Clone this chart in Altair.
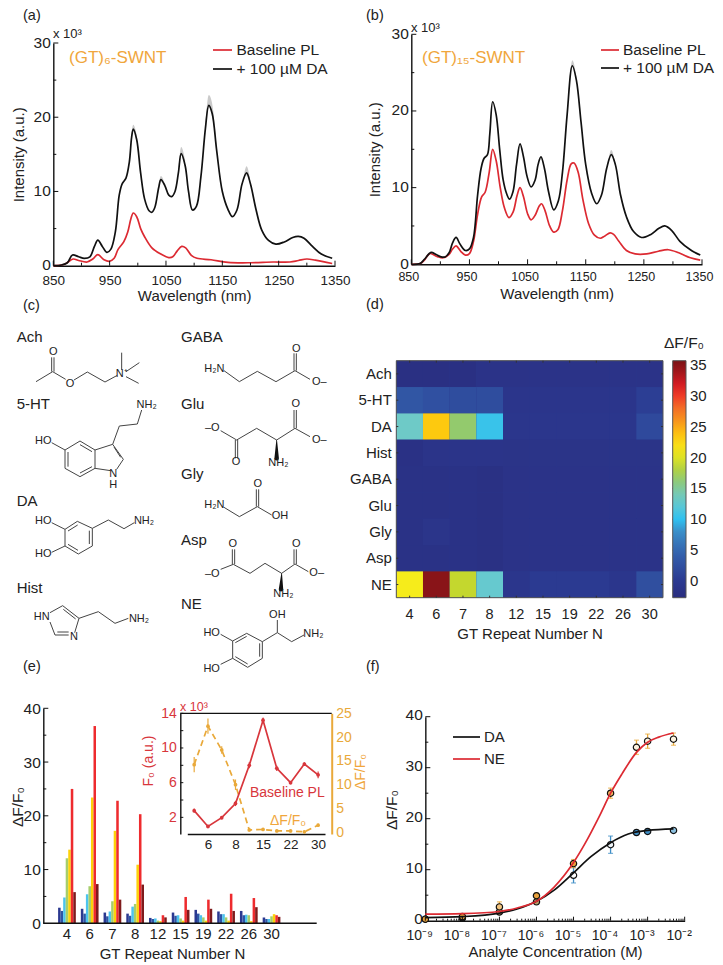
import altair as alt
import pandas as pd

FONT = "Liberation Sans"
W, H = 707, 955
INK = "#222222"
RED = "#dc2a32"
BLACK = "#111111"
ORANGE = "#f0a63c"
ORANGE2 = "#e9a93a"
INSET_RED = "#d8363c"

# ---- panel (a) spectra: (wavelength nm, intensity x10^3)
a_black = [(850,0),(865,.1),(875,.4),(884,1.45),(895,1.2),(905,1.0),(915,1.2),(923,2.6),(929,3.45),(937,2.6),(945,1.8),(952,2.2),(960,4.5),(967,9.5),(972,11),(979,11.8),(985,14),(989,17.3),(992,18.4),(998,17),(1005,12.5),(1012,9),(1020,7.4),(1025,7.2),(1030,7.8),(1037,10.5),(1041,11.6),(1048,10.8),(1055,9.5),(1060,9.3),(1066,10),(1072,12.5),(1077,15.1),(1084,13.5),(1090,10),(1097,7.5),(1104,8),(1112,12),(1120,18.5),(1126,21.6),(1132,20.5),(1140,15.5),(1150,10),(1160,7.6),(1168,6.6),(1176,7.5),(1185,11),(1193,12.5),(1200,11),(1210,7.5),(1220,4.8),(1232,3.4),(1245,2.9),(1260,3.2),(1275,3.8),(1285,3.95),(1295,3.7),(1310,2.6),(1325,1.6),(1345,1.0)]
a_red = [(850,0),(870,.2),(885,.9),(895,.7),(910,.5),(920,.9),(929,1.5),(940,.8),(950,.6),(958,1.0),(965,2.2),(975,3.2),(982,4.5),(988,6.4),(992,7.1),(998,6.6),(1005,5),(1012,3.9),(1025,2.4),(1040,1.6),(1055,1.1),(1062,1.2),(1070,2),(1078,2.6),(1085,2.4),(1095,1.4),(1105,1.0),(1130,.8),(1160,.45),(1200,.4),(1240,.5),(1270,.5),(1285,.7),(1300,.9),(1315,.75),(1345,.3)]
# grey spread near peaks: (segment, wavelength, upper, lower)
a_band = [(1,1120,19,18.2),(1,1126,23,21.3),(1,1132,21.8,20.2),(1,1140,15.7,15.3),
          (2,1072,12.8,12.3),(2,1077,16,14.8),(2,1084,14.2,13.2),
          (3,1188,12,11.6),(3,1193,13.4,12.2),(3,1199,11.8,11.1),
          (4,1036,10.3,9.6),(4,1041,12.1,11.3),(4,1048,11,10.6),
          (5,985,14.3,13.8),(5,992,19,18.1),(5,998,17.6,16.6)]

# ---- panel (b)
b_black = [(850,0),(865,.1),(872,.6),(884,1.55),(892,1.3),(900,1.0),(908,.95),(915,1.5),(921,2.8),(927,3.5),(934,2.6),(943,1.8),(950,2.0),(957,3.5),(964,9),(970,12.5),(975,13.8),(981,14.3),(985,17),(990,21.2),(996,19.5),(1002,15),(1008,11),(1014,9.2),(1019,8.5),(1025,9.5),(1031,13),(1037,15.7),(1043,14),(1049,11.5),(1056,10.1),(1063,11),(1068,13),(1073,14),(1079,12.5),(1086,9.5),(1095,7.1),(1103,8.3),(1110,12),(1118,19.5),(1127,25.9),(1134,24),(1142,18.5),(1150,13),(1160,9.3),(1169,7.9),(1177,9),(1186,12.5),(1194,14.3),(1201,13),(1210,9),(1220,6.2),(1232,4.3),(1246,3.5),(1262,3.9),(1276,4.7),(1286,5),(1298,4.4),(1312,3),(1330,1.9),(1347,1.2)]
b_red = [(850,0),(865,.1),(872,.5),(882,1.4),(895,1.0),(905,.85),(915,1.3),(921,2),(927,2.4),(935,1.7),(943,1.2),(950,1.4),(957,3),(964,6.5),(971,8.8),(977,9.4),(984,12),(990,15),(996,13.5),(1003,10),(1010,7.4),(1018,6.1),(1025,6.8),(1032,9),(1037,10),(1043,8.8),(1050,6.6),(1056,5.8),(1063,6.4),(1070,7.6),(1074,7.9),(1080,7),(1088,5),(1095,4.2),(1102,4.5),(1110,7),(1118,11),(1125,13.1),(1130,13.2),(1137,12),(1145,8.5),(1155,5.3),(1165,3.8),(1175,3.4),(1183,3.7),(1192,4.1),(1198,3.9),(1207,3),(1220,1.8),(1235,1.35),(1255,1.35),(1275,1.7),(1292,1.9),(1310,1.5),(1330,.85),(1347,.55)]
b_band = [(1,1120,21.5,21),(1,1127,26.6,25.7),(1,1134,24.4,23.8),
          (2,1188,13.2,12.9),(2,1194,14.9,14.1),(2,1200,13.4,13.1)]

# ---- panel (d) heat map
analytes = ["Ach","5-HT","DA","Hist","GABA","Glu","Gly","Asp","NE"]
repeats = ["4","6","7","8","12","15","19","22","26","30"]
heat = {
 "Ach":  [-2,-2,-2,-1.3,-1.3,-1.3,-1.3,-1.3,-1.3,-1.3],
 "5-HT": [3.2,2.6,2.2,2.2,-.8,-.8,-.8,-.8,-.8,.6],
 "DA":   [13.2,23.5,16.5,10.5,-.6,-.6,-.6,-.6,-.6,1.8],
 "Hist": [-1.7,-1.1,-1.1,-1.1,-1.2,-1.2,-1.2,-1.2,-1.2,-1.2],
 "GABA": [-1.6,-1.6,-1.6,-1.9,-1.3,-1.3,-1.3,-1.3,-1.3,-1.3],
 "Glu":  [-1.6,-1.6,-1.6,-1.9,-1.3,-1.3,-1.3,-1.3,-1.3,-1.3],
 "Gly":  [-1.6,-.9,-1.6,-1.9,-1.3,-1.3,-1.3,-1.3,-1.3,-1.3],
 "Asp":  [-1.6,-1.6,-1.6,-1.9,-1.3,-1.3,-1.3,-1.3,-1.3,-1.3],
 "NE":   [21,35,19,12.7,-.7,.1,.1,.1,-.7,2.4],
}
jet_stops  = [-2.7,0,5,8,10,13,15,17,19,21,23.5,26,29,31,33,35.7]
jet_colors = ["#2a2d7f","#2b3990","#3566b0","#3a8fc9","#2fc1f0","#6ccacb","#7cc8a0","#9bcb5c","#c4d72e","#f6ec1b","#fdc90f","#f7941d","#f1592a","#ed1c24","#b5191f","#7a1215"]
cbar_ticks = [0,5,10,15,20,25,30,35]

# ---- panel (e) bars
bar_series = ["s1","s2","s3","s4","s5","s6","s7"]
bar_colors = ["#2b3990","#2e55a5","#4cc4ee","#a6ce6b","#fdd20a","#ee2b2e","#7f1b1c"]
bars = {
 "4":  [2.9,2.3,4.8,12.1,13.7,25,5.8],
 "6":  [2.7,1.8,5.4,6.9,23.4,36.7,7.3],
 "7":  [2.0,1.3,2.2,4.1,17.2,22.8,4.4],
 "8":  [1.8,1.4,3.1,3.6,10.9,20.3,7.2],
 "12": [1.0,.8,.9,.5,.4,1.5,1.1],
 "15": [2.0,1.4,1.5,.9,.5,4.9,2.5],
 "19": [2.5,1.8,1.5,1.1,.5,4.4,2.7],
 "22": [2.2,1.7,1.7,1.1,.5,5.5,2.3],
 "26": [2.3,1.5,1.6,1.5,.4,4.7,3.0],
 "30": [1.1,.8,.8,1.3,1.7,1.5,1.2],
}
# inset
inset_f0 = [2.77,.95,1.96,3.6,8.0,13.2,7.65,6.0,8.15,6.9]
inset_f0_err = [.25,.2,.2,.3,.35,.3,.3,.2,.2,.4]
inset_df = [14.2,22.3,17.3,10.0,.5,.6,.3,.3,.1,1.5]
inset_df_err = [1.6,1.6,.8,1.1,.3,.3,.3,.3,.3,.3]

# ---- panel (f)
conc_pts = [1e-9,1e-8,1e-7,1e-6,1e-5,1e-4,5e-4,1e-3,5e-3]
da_pts = [.3,.5,1.7,3.7,8.9,14.9,17.3,17.5,17.7]
da_err = [.2,.2,.3,.4,1.5,1.7,.4,.4,.3]
da_fill = ["#222222","#222222","#caa27a","#b9a06a","#ffffff","#eef4f8","#3f8ec6","#3f8ec6","#8cc1e0"]
ne_pts = [.3,.8,2.7,4.9,11.2,25,34,35.2,35.6]
ne_err = [.2,.3,1.0,.5,.8,1.0,1.4,1.4,1.2]
ne_fill = ["#e8a23c","#e8a23c","#f3c47e","#e8a23c","#e8a23c","#f3b45c","#fdf3e0","#fdf3e0","#fdf3e0"]
da_curve = [(1e-9,.6),(1e-8,.8),(1e-7,1.5),(3e-7,2.3),(1e-6,3.8),(3e-6,6),(1e-5,9.4),(3e-5,12.6),(1e-4,15.3),(3e-4,17),(1e-3,17.7),(5e-3,18)]
ne_curve = [(1e-9,1.3),(1e-8,1.4),(1e-7,1.8),(3e-7,2.5),(1e-6,3.8),(3e-6,6.6),(1e-5,11.4),(2e-5,15),(5e-5,20.5),(1e-4,25),(2e-4,28.7),(5e-4,33),(1e-3,35),(2e-3,36),(5e-3,36.8)]

# ---- panel (c) molecule drawings: bonds in the panel's own drawing units
c_bonds = [
 # Ach
 (108,245,158,215),(155,215,155,172),(162,215,162,172),(158,215,197,238),(222,240,262,216),(262,216,315,246),(315,246,352,226),(365,210,365,158),(378,215,418,188),(378,230,416,250),
 # GABA
 (672,212,718,245),(718,245,772,214),(772,214,828,245),(828,245,885,212),(882,212,882,160),(889,212,889,160),(885,212,930,238),
 # 5-HT
 (425,330,412,372),(412,372,358,378),(358,378,338,433),(155,428,195,450),(195,450,240,423),(240,423,285,450),(285,450,285,505),(285,505,240,530),(240,530,195,505),(195,505,195,450),
 (204,456,204,500),(240,434,276,455),(240,519,276,500),(285,450,338,433),(338,433,370,478),(370,478,350,508),(332,512,285,505),(342,441,362,472),
 # DA
 (155,668,195,688),(155,757,195,738),(195,688,232,664),(232,664,277,685),(277,685,277,738),(277,738,235,762),(235,762,195,738),(195,738,195,688),
 (204,693,233,675),(268,692,268,732),(234,751,204,733),(277,685,325,660),(325,660,372,686),(372,686,403,668),
 # Hist
 (150,938,188,917),(188,917,237,955),(237,955,224,998),(206,1005,165,1005),(165,1005,150,966),(190,928,227,957),(172,996,206,996),(237,955,295,935),(295,935,345,970),(345,970,385,955),
 # Glu
 (662,392,710,420),(706,420,706,475),(713,420,713,475),(710,420,770,385),(770,385,830,420),(830,420,885,385),(882,385,882,330),(889,385,889,330),(885,385,930,410),
 # Gly
 (672,622,718,650),(718,650,772,620),(769,620,769,568),(776,620,776,568),(772,620,815,645),
 # Asp
 (662,808,700,793),(697,793,697,748),(704,793,704,748),(700,793,750,820),(750,820,795,790),(795,790,845,820),(845,820,885,792),(882,792,882,748),(889,792,889,748),(885,792,925,815),
 # NE
 (662,1003,698,1023),(662,1093,698,1075),(698,1023,740,1000),(740,1000,787,1025),(787,1025,787,1075),(787,1075,743,1102),(743,1102,698,1075),(698,1075,698,1023),
 (706,1028,740,1009),(779,1030,779,1070),(743,1092,706,1070),(787,1025,832,998),(832,998,875,1025),(875,1025,912,1005),(832,998,832,960),
]
# stereo wedges: (id, x, y, thickness)
c_wedges = [(1,830,420,1),(1,830,475,7),(2,845,820,1),(2,843,868,7)]
c_atoms = [(160,157,"O"),(210,253,"O"),(365,222,"N⁺"),(643,208,"H₂N"),(889,146,"O"),(958,247,"O–"),
           (440,316,"NH₂"),(130,423,"HO"),(340,522,"N"),(340,556,"H"),
           (130,662,"HO"),(130,762,"HO"),(432,664,"NH₂"),
           (125,952,"HN"),(222,1012,"N"),(417,958,"NH₂"),
           (637,383,"–O"),(708,487,"O"),(835,490,"NH₂"),(887,313,"O"),(958,420,"O–"),
           (643,616,"H₂N"),(773,552,"O"),(840,648,"OH"),
           (637,822,"–O"),(698,733,"O"),(889,733,"O"),(850,882,"NH₂"),(950,820,"O–"),
           (635,1000,"HO"),(635,1107,"HO"),(832,945,"OH"),(940,1001,"NH₂")]
c_names = [(50,110,"Ach"),(50,312,"5-HT"),(50,603,"DA"),(50,863,"Hist"),
           (543,110,"GABA"),(543,312,"Glu"),(543,523,"Gly"),(543,720,"Asp"),(543,913,"NE")]


def sc(domain, p0, p1, **kw):
    return alt.Scale(domain=domain, range=[p0 - 8, p1 - 8], nice=False, zero=False, **kw)


def xq(field, scale, axis=None):
    return alt.X(field, type="quantitative", scale=scale, axis=axis)


def yq(field, scale, axis=None):
    return alt.Y(field, type="quantitative", scale=scale, axis=axis)


def ax_bottom(y0, values, size=13.5, title=None, pad=2, tpad=3, **kw):
    return alt.Axis(orient="bottom", offset=-(H - (y0 - 8)), values=values, title=title, tickSize=0, format="d",
                    labelPadding=pad, labelFontSize=size, labelColor=INK, labelFont=FONT, grid=False,
                    domainColor=BLACK, domainWidth=1.4, titleFont=FONT, titleFontSize=15, labelOverlap=False,
                    labelFlush=False, labelBound=False,
                    titleFontWeight="normal", titleColor=INK, titlePadding=tpad, labelAngle=0, **kw)


def ax_left(x0, values, size=15.5, title=None, pad=3, tpad=4, color=INK, **kw):
    return alt.Axis(orient="left", offset=-(x0 - 8), values=values, title=title, tickSize=0,
                    labelPadding=pad, labelFontSize=size, labelColor=color, labelFont=FONT, grid=False,
                    domainColor=BLACK, domainWidth=1.4, titleFont=FONT, titleFontSize=15, labelOverlap=False,
                    labelFlush=False, labelBound=False,
                    titleFontWeight="normal", titleColor=INK, titlePadding=tpad, **kw)


def line(pts, color, sx, sy, xaxis=None, yaxis=None, width=1.7, interp="catmull-rom"):
    df = pd.DataFrame(pts, columns=["x", "y"])
    return alt.Chart(df).mark_line(color=color, strokeWidth=width, interpolate=interp).encode(
        x=xq("x", sx, xaxis), y=yq("y", sy, yaxis))


def band(rows, sx, sy):
    df = pd.DataFrame(rows, columns=["s", "x", "hi", "lo"])
    return alt.Chart(df).mark_area(color="#bdbdbd", opacity=.8, interpolate="monotone").encode(
        x=xq("x", sx), y=yq("hi", sy), y2="lo", detail="s:N")


def xticks(values, scale, y0, length, color=BLACK):
    return alt.Chart(pd.DataFrame({"v": values})).mark_rule(color=color, strokeWidth=1).encode(
        x=xq("v", scale), y=alt.value(y0 - 8), y2=alt.value(y0 - 8 - length))


def yticks(values, scale, x0, length, color=BLACK):
    return alt.Chart(pd.DataFrame({"v": values})).mark_rule(color=color, strokeWidth=1).encode(
        y=yq("v", scale), x=alt.value(x0 - 8), x2=alt.value(x0 - 8 + length))


layers = []

# ---------- sheet-level annotations (reference pixels)
SX = alt.Scale(domain=[8, 8 + W], range=[0, W], nice=False, zero=False)
SY = alt.Scale(domain=[8, 8 + H], range=[0, H], nice=False, zero=False)


def segs(rows, color=BLACK, width=1.7):
    df = pd.DataFrame(rows, columns=["x", "y", "x2", "y2"])
    return alt.Chart(df).mark_rule(color=color, strokeWidth=width).encode(
        x=xq("x", SX), y=yq("y", SY), x2="x2", y2="y2")


def text(rows, size=15, color=INK, align="left", angle=0, style=None):
    df = pd.DataFrame(rows, columns=["x", "y", "t"])
    kw = {"fontStyle": style} if style else {}
    return alt.Chart(df).mark_text(font=FONT, fontSize=size, color=color, align=align, baseline="middle",
                                   angle=angle, **kw).encode(
        x=xq("x", SX), y=yq("y", SY), text="t:N")


# ---------- panel (a)
xa = sc([850, 1350], 53.3, 335)
ya = sc([0, 30], 265.7, 43)
layers += [
    band(a_band, xa, ya),
    line(a_red, RED, xa, ya),
    line(a_black, BLACK, xa, ya,
         ax_bottom(265.7, [850, 950, 1050, 1150, 1250, 1350], title="Wavelength (nm)", pad=8, tpad=1),
         ax_left(53.3, [0, 10, 20, 30], title="Intensity (a.u.)", tpad=7, labelOffset=-1)),
    xticks([850, 950, 1050, 1150, 1250, 1350], xa, 265.7, 5),
    xticks([900, 1000, 1100, 1200, 1300], xa, 265.7, 3),
    yticks([10, 20, 30], ya, 53.3, 5),
    yticks([5, 15, 25], ya, 53.3, 3),
]

# ---------- panel (b)
xb = sc([850, 1350], 411.3, 702)
yb = sc([0, 30], 264.3, 34.3)
layers += [
    band(b_band, xb, yb),
    line(b_red, RED, xb, yb),
    line(b_black, BLACK, xb, yb,
         ax_bottom(264.3, [850, 950, 1050, 1150, 1250, 1350], size=12.5, title="Wavelength (nm)", pad=6, tpad=4, labelOffset=-3),
         ax_left(411.3, [0, 10, 20, 30], title="Intensity (a.u.)", tpad=9, labelOffset=-1)),
    xticks([850, 950, 1050, 1150, 1250, 1350], xb, 264.3, 5),
    xticks([900, 1000, 1100, 1200, 1300], xb, 264.3, 3),
    yticks([10, 20, 30], yb, 411.3, 5),
    yticks([5, 15, 25], yb, 411.3, 3),
]
layers += [
    segs([(213, 50, 232, 50), (601, 50, 619, 50)], RED),
    segs([(213, 69, 232, 69), (601, 68, 619, 68)], BLACK),
    text([(236.5, 50, "Baseline PL"), (236.5, 69, "+ 100 µM DA"), (623, 50, "Baseline PL"), (623, 68, "+ 100 µM DA")], size=15.5),
    text([(69, 58, "(GT)₆-SWNT"), (422, 58, "(GT)₁₅-SWNT")], size=17, color=ORANGE),
    text([(53, 34, "x 10³"), (411, 28, "x 10³")], size=13),
    text([(23, 16, "(a)"), (366, 16, "(b)"), (23, 306, "(c)"), (366, 305, "(d)"), (23, 667, "(e)"), (366, 667, "(f)")], size=14.5),
]

# ---------- panel (c)
cx = sc([0, 1086], 0, 362)
cy = sc([0, 1050], 300, 650)
bond_df = pd.DataFrame(c_bonds, columns=["x", "y", "x2", "y2"])
layers.append(alt.Chart(bond_df).mark_rule(color="#444444", strokeWidth=1).encode(
    x=xq("x", cx), y=yq("y", cy), x2="x2", y2="y2"))
wedge_df = pd.DataFrame(c_wedges, columns=["id", "x", "y", "w"])
layers.append(alt.Chart(wedge_df).mark_trail(color="#111111").encode(
    x=xq("x", cx), y=yq("y", cy), detail="id:N",
    size=alt.Size("w:Q", scale=alt.Scale(domain=[0, 7], range=[0, 4.5]), legend=None)))
atom_df = pd.DataFrame(c_atoms, columns=["x", "y", "t"])
layers.append(alt.Chart(atom_df).mark_text(font=FONT, fontSize=11, color=INK, align="center", baseline="middle").encode(
    x=xq("x", cx), y=yq("y", cy), text="t:N"))
name_df = pd.DataFrame(c_names, columns=["x", "y", "t"])
layers.append(alt.Chart(name_df).mark_text(font=FONT, fontSize=15, color=INK, align="left", baseline="middle").encode(
    x=xq("x", cx), y=yq("y", cy), text="t:N"))

# ---------- panel (d)
heat_df = pd.DataFrame([{"n": n, "a": a, "v": heat[a][i]} for a in analytes for i, n in enumerate(repeats)])
xd = alt.Scale(domain=repeats, range=[396.3 - 8, 663 - 8], paddingInner=0, paddingOuter=0)
yd = alt.Scale(domain=analytes, range=[360.7 - 8, 597.7 - 8], paddingInner=0, paddingOuter=0)
jet = alt.Scale(domain=jet_stops, range=jet_colors, interpolate="rgb")
# navy backing so that no pale seams show between the cells
layers.append(alt.Chart(pd.DataFrame({"k": [0]})).mark_rect(fill="#2b3990").encode(
    x=alt.value(396.3 - 8), x2=alt.value(663 - 8), y=alt.value(360.7 - 8), y2=alt.value(597.7 - 8)))
layers.append(alt.Chart(heat_df).mark_rect(strokeWidth=0).encode(
    x=alt.X("n:N", scale=xd, sort=None, axis=alt.Axis(
        orient="bottom", offset=-(H - (597.7 - 8)), title="GT Repeat Number N", tickSize=0, domain=False,
        labelAngle=0, labelFontSize=14.5, labelFont=FONT, labelColor=INK, labelPadding=10, titleFont=FONT,
        titleFontSize=15, titleFontWeight="normal", titleColor=INK, titlePadding=5)),
    y=alt.Y("a:N", scale=yd, sort=None, axis=alt.Axis(
        orient="left", offset=-(396.3 - 8), title=None, tickSize=0, domain=False, labelFontSize=15,
        labelFont=FONT, labelColor=INK, labelPadding=5)),
    color=alt.Color("v:Q", scale=jet,
                    legend=alt.Legend(orient="none", legendX=672.7 - 8, legendY=360.7 - 8, direction="vertical",
                                      gradientLength=237, gradientThickness=13.3, values=cbar_ticks, title=None,
                                      labelFontSize=15, labelFont=FONT, labelColor=INK, labelOffset=4,
                                      gradientStrokeColor="#555555", gradientStrokeWidth=1, tickCount=8,
                                      labelOverlap=False)),
))
layers.append(alt.Chart(pd.DataFrame({"k": [0]})).mark_rect(fill=None, stroke="#555555", strokeWidth=1).encode(
    x=alt.value(396.3 - 8), x2=alt.value(663 - 8), y=alt.value(360.7 - 8), y2=alt.value(597.7 - 8)))
n_df = alt.Chart(pd.DataFrame({"n": repeats}))
a_df = alt.Chart(pd.DataFrame({"a": analytes}))
xn = alt.X("n:N", scale=xd, sort=None, axis=None)
ya_band = alt.Y("a:N", scale=yd, sort=None, axis=None)
layers += [
    n_df.mark_rule(color="#333333", strokeWidth=1).encode(x=xn, y=alt.value(360.7 - 8), y2=alt.value(360.7 - 6)),
    n_df.mark_rule(color="#333333", strokeWidth=1).encode(x=xn, y=alt.value(597.7 - 8), y2=alt.value(597.7 - 10)),
    a_df.mark_rule(color="#333333", strokeWidth=1).encode(y=ya_band, x=alt.value(396.3 - 8), x2=alt.value(396.3 - 6)),
    a_df.mark_rule(color="#333333", strokeWidth=1).encode(y=ya_band, x=alt.value(663 - 8), x2=alt.value(663 - 10)),
]
ycb = sc([-2.7, 35.7], 597.7, 360.7)
layers += [yticks(cbar_ticks, ycb, 672.7, 2, "#333333"), yticks(cbar_ticks, ycb, 684, 2, "#333333")]
layers.append(text([(664, 343, "ΔF/F₀")], size=15.5))

# ---------- panel (e) bars
bar_df = pd.DataFrame([{"n": n, "s": s, "v": bars[n][j]} for n in repeats for j, s in enumerate(bar_series)])
xe = alt.Scale(domain=repeats, range=[55.6 - 8, 282.9 - 8], paddingInner=.22, paddingOuter=.11)
ye = sc([0, 40], 923.3, 708.3)
layers.append(alt.Chart(bar_df).mark_bar().encode(
    x=alt.X("n:N", scale=xe, sort=None, axis=alt.Axis(
        orient="bottom", offset=-(H - (923.3 - 8)), title="GT Repeat Number N", tickSize=0, domain=False,
        labelAngle=0, labelFontSize=15, labelFont=FONT, labelColor=INK, labelPadding=3, titleFont=FONT,
        titleFontSize=15, titleFontWeight="normal", titleColor=INK, titlePadding=5, titleX=172 - 8)),
    xOffset=alt.XOffset("s:N", sort=None, scale=alt.Scale(domain=bar_series)),
    y=yq("v", ye, ax_left(43.3, [0, 10, 20, 30, 40], pad=3)),
    color=alt.Color("s:N", scale=alt.Scale(domain=bar_series, range=bar_colors), legend=None),
))
layers += [
    yticks([10, 20, 30, 40], ye, 43.3, 5),
    yticks([5, 15, 25, 35], ye, 43.3, 3),
    segs([(43.3, 923.3, 316.7, 923.3)], BLACK, 1.5),
    text([(18, 807, "ΔF/F₀")], size=15.5, align="center", angle=270),
]

# ---------- inset of (e)
yi = sc([.08, 14], 834, 713.3)
yr = sc([-.35, 25], 834, 713.3)
inset_tbl = pd.DataFrame({"n": repeats, "f": inset_f0, "fe": inset_f0_err, "d": inset_df, "de": inset_df_err})
inset_tbl["f1"] = inset_tbl["f"] - inset_tbl["fe"]
inset_tbl["f2"] = inset_tbl["f"] + inset_tbl["fe"]
inset_tbl["d1"] = inset_tbl["d"] - inset_tbl["de"]
inset_tbl["d2"] = inset_tbl["d"] + inset_tbl["de"]
xpi = alt.X("n:O", scale=alt.Scale(type="point", domain=repeats, range=[187.3 - 8, 325 - 8]), sort=None, axis=None)
b_i = alt.Chart(inset_tbl)
layers += [
    b_i.mark_line(color=ORANGE2, strokeWidth=1.7, strokeDash=[6, 4]).encode(x=xpi, y=yq("d", yr, alt.Axis(
        orient="right", offset=(331.7 - 8) - W, values=[0, 5, 10, 15, 20, 25], title=None, tickSize=0, labelPadding=4,
        labelFontSize=14, labelFont=FONT, labelColor=ORANGE2, grid=False, domainColor=ORANGE2, domainWidth=2,
        labelOverlap=False, labelFlush=False))),
    b_i.mark_rule(color=ORANGE2, strokeWidth=1.2).encode(x=xpi, y=yq("d1", yr), y2="d2"),
    b_i.mark_point(color=ORANGE2, filled=True, size=14, opacity=1).encode(x=xpi, y=yq("d", yr)),
    b_i.mark_line(color=INSET_RED, strokeWidth=1.7).encode(
        x=alt.X("n:O", sort=None, scale=alt.Scale(type="point", domain=repeats, range=[187.3 - 8, 325 - 8]),
                axis=alt.Axis(orient="bottom", offset=-(H - (834 - 8)), values=["6", "8", "15", "22", "30"], title=None,
                              tickSize=0, labelAngle=0, labelFontSize=13.5, labelFont=FONT, labelColor=INK,
                              labelPadding=3, grid=False, domainColor=BLACK, domainWidth=1.3)),
        y=yq("f", yi, ax_left(180.3, [2, 6, 10, 14], size=14, color=INSET_RED, pad=4))),
    b_i.mark_rule(color=INSET_RED, strokeWidth=1.2).encode(x=xpi, y=yq("f1", yi), y2="f2"),
    b_i.mark_point(color=INSET_RED, filled=True, size=14, opacity=1).encode(x=xpi, y=yq("f", yi)),
    yticks([2, 4, 6, 8, 10, 12, 14], yi, 180.3, 3),
    segs([(180.3, 713.3, 331.7, 713.3)], BLACK, 1.3),
    text([(180, 707, "x 10³")], size=12.5, color=INSET_RED),
    text([(250, 793, "Baseline PL")], size=14, color=INSET_RED),
    text([(270, 821, "ΔF/F₀")], size=14, color=ORANGE),
    text([(149, 761, "F₀ (a.u.)")], size=14, color=INSET_RED, align="center", angle=270),
    text([(361, 772, "ΔF/F₀")], size=14, color=ORANGE, align="center", angle=270),
]

# ---------- panel (f)
xf = alt.Scale(type="log", domain=[1e-9, 1e-2], range=[362 + 190 / 3 - 8, 362 + 968 / 3 - 8], nice=False)
yf = sc([0, 40], 920.7, 716.7)
f_major = [1e-9, 1e-8, 1e-7, 1e-6, 1e-5, 1e-4, 1e-3, 1e-2]
f_minor = [m * d for d in f_major[:-1] for m in (2, 3, 4, 5, 6, 7, 8, 9)]
sup = "['⁻⁹','⁻⁸','⁻⁷','⁻⁶','⁻⁵','⁻⁴','⁻³','⁻²'][round(log(datum.value)/LN10)+9]"
pts = pd.DataFrame({"c": conc_pts, "da": da_pts, "nv": ne_pts, "de": da_err, "ee": ne_err,
                    "df": da_fill, "nf": ne_fill})
pts["d1"] = pts["da"] - pts["de"]
pts["d2"] = pts["da"] + pts["de"]
pts["e1"] = pts["nv"] - pts["ee"]
pts["e2"] = pts["nv"] + pts["ee"]
pb = alt.Chart(pts)


def caps(field, color):
    return pb.mark_tick(color=color, thickness=1.2, size=5, orient="horizontal").encode(
        x=xq("c", xf), y=yq(field, yf))


layers += [
    pb.mark_rule(color="#3f8ec6", strokeWidth=1.3).encode(x=xq("c", xf), y=yq("d1", yf), y2="d2"),
    caps("d1", "#3f8ec6"), caps("d2", "#3f8ec6"),
    pb.mark_rule(color=ORANGE2, strokeWidth=1.3).encode(x=xq("c", xf), y=yq("e1", yf), y2="e2"),
    caps("e1", ORANGE2), caps("e2", ORANGE2),
    pb.mark_point(filled=True, size=40, stroke="#111111", strokeWidth=1.2, opacity=1).encode(
        x=xq("c", xf), y=yq("da", yf), fill=alt.Fill("df:N", scale=None)),
    pb.mark_point(filled=True, size=40, stroke="#111111", strokeWidth=1.2, opacity=1).encode(
        x=xq("c", xf), y=yq("nv", yf), fill=alt.Fill("nf:N", scale=None)),
    line(da_curve, BLACK, xf, yf, interp="monotone"),
    line(ne_curve, RED, xf, yf,
         alt.Axis(orient="bottom", offset=-(H - (920.7 - 8)), values=f_major, title="Analyte Concentration (M)",
                  tickSize=0, labelExpr="'10' + " + sup, labelAngle=0, labelFontSize=14, labelFont=FONT,
                  labelColor=INK, labelPadding=8, labelOffset=-6, grid=False, domainColor=BLACK, domainWidth=1.4,
                  titleFont=FONT, titleFontSize=15, titleFontWeight="normal", titleColor=INK, titlePadding=2,
                  labelOverlap=False, labelBound=False, labelFlush=False),
         ax_left(362 + 190 / 3, [0, 10, 20, 30, 40], pad=3, labelOffset=-2), interp="monotone"),
    xticks(f_major, xf, 920.7, 4),
    xticks(f_minor, xf, 920.7, 2),
    yticks([10, 20, 30, 40], yf, 362 + 190 / 3, 5),
    yticks([5, 15, 25, 35], yf, 362 + 190 / 3, 3),
    segs([(453, 737, 480, 737)], BLACK),
    segs([(453, 759, 480, 759)], RED),
    text([(484, 737, "DA"), (484, 759, "NE")], size=15),
    text([(392, 810, "ΔF/F₀")], size=15.5, align="center", angle=270),
]

chart = alt.layer(*layers).properties(
    width=W, height=H, padding=0, autosize=alt.AutoSizeParams(type="none"),
    background="#ffffff",
).resolve_scale(x="independent", y="independent", color="independent", size="independent",
                fill="independent", xOffset="independent"
).resolve_axis(x="independent", y="independent").configure_view(stroke=None)

chart.save("out.html", embed_options={"renderer": "svg", "actions": False})
